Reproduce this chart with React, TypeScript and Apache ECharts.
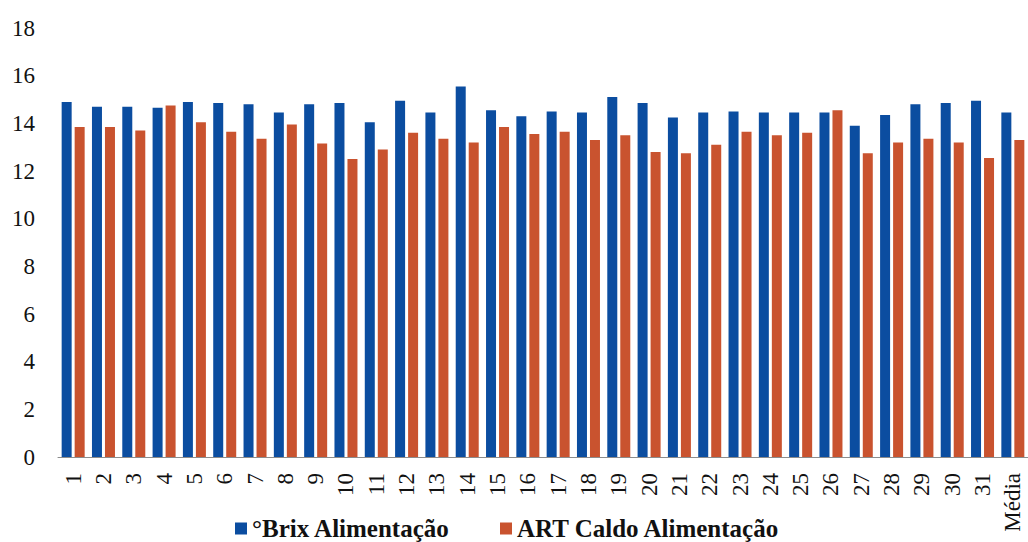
import React, { useEffect, useRef } from "react";
import * as echarts from "echarts";

// Dias de coleta + média do período
const categories: string[] = [
  "1", "2", "3", "4", "5", "6", "7", "8", "9", "10",
  "11", "12", "13", "14", "15", "16", "17", "18", "19", "20",
  "21", "22", "23", "24", "25", "26", "27", "28", "29", "30",
  "31", "Média",
];

// °Brix do caldo de alimentação
const brixAlimentacao: number[] = [
  14.9, 14.7, 14.7, 14.65, 14.9, 14.85, 14.8, 14.45, 14.8, 14.85,
  14.05, 14.95, 14.45, 15.55, 14.55, 14.3, 14.5, 14.45, 15.1, 14.85,
  14.25, 14.45, 14.5, 14.45, 14.45, 14.45, 13.9, 14.35, 14.8, 14.85,
  14.95, 14.45,
];

// ART do caldo de alimentação
const artCaldoAlimentacao: number[] = [
  13.85, 13.85, 13.7, 14.75, 14.05, 13.65, 13.35, 13.95, 13.15, 12.5,
  12.9, 13.6, 13.35, 13.2, 13.85, 13.55, 13.65, 13.3, 13.5, 12.8,
  12.75, 13.1, 13.65, 13.5, 13.6, 14.55, 12.75, 13.2, 13.35, 13.2,
  12.55, 13.3,
];

const seriesNames: string[] = ["°Brix Alimentação", "ART Caldo Alimentação"];

const yTicks = { min: 0, max: 18, interval: 2 };

const serif = "Liberation Serif, Times New Roman, serif";
const BLUE = "#0B4DA0";
const RED = "#C9532F";

const legendText = {
  fontFamily: serif,
  fontSize: 25,
  fontWeight: "bold",
  color: "#111",
};

export default function App() {
  const ref = useRef<HTMLDivElement>(null);

  useEffect(() => {
    if (!ref.current) return;
    const chart = echarts.init(ref.current, undefined, { renderer: "svg" });
    chart.setOption({
      animation: false,
      backgroundColor: "#ffffff",
      grid: { left: 58, top: 28, width: 973, bottom: 85, containLabel: false },
      legend: [
        {
          left: 235,
          top: 516,
          padding: 0,
          itemWidth: 12,
          itemHeight: 12,
          icon: "rect",
          textStyle: legendText,
          data: [seriesNames[0]],
        },
        {
          left: 500,
          top: 516,
          padding: 0,
          itemWidth: 12,
          itemHeight: 12,
          icon: "rect",
          textStyle: legendText,
          data: [seriesNames[1]],
        },
      ],
      xAxis: {
        type: "category",
        data: categories,
        axisLine: { show: true, lineStyle: { color: "#8c8c8c", width: 1 } },
        axisTick: { show: false },
        axisLabel: {
          rotate: 90,
          interval: 0,
          margin: 16,
          fontFamily: serif,
          fontSize: 23,
          color: "#111",
        },
      },
      yAxis: {
        type: "value",
        min: yTicks.min,
        max: yTicks.max,
        interval: yTicks.interval,
        splitLine: { show: false },
        axisLine: { show: false },
        axisTick: { show: false },
        axisLabel: {
          margin: 23,
          fontFamily: serif,
          fontSize: 23,
          color: "#111",
        },
      },
      series: [
        {
          name: seriesNames[0],
          type: "bar",
          data: brixAlimentacao,
          barWidth: 10,
          barGap: "30%",
          itemStyle: { color: BLUE },
        },
        {
          name: seriesNames[1],
          type: "bar",
          data: artCaldoAlimentacao,
          barWidth: 10,
          itemStyle: { color: RED },
        },
      ],
    });
    return () => chart.dispose();
  }, []);

  return (
    <div
      ref={ref}
      style={{ position: "absolute", left: 0, top: 0, width: 1028, height: 542 }}
    />
  );
}
